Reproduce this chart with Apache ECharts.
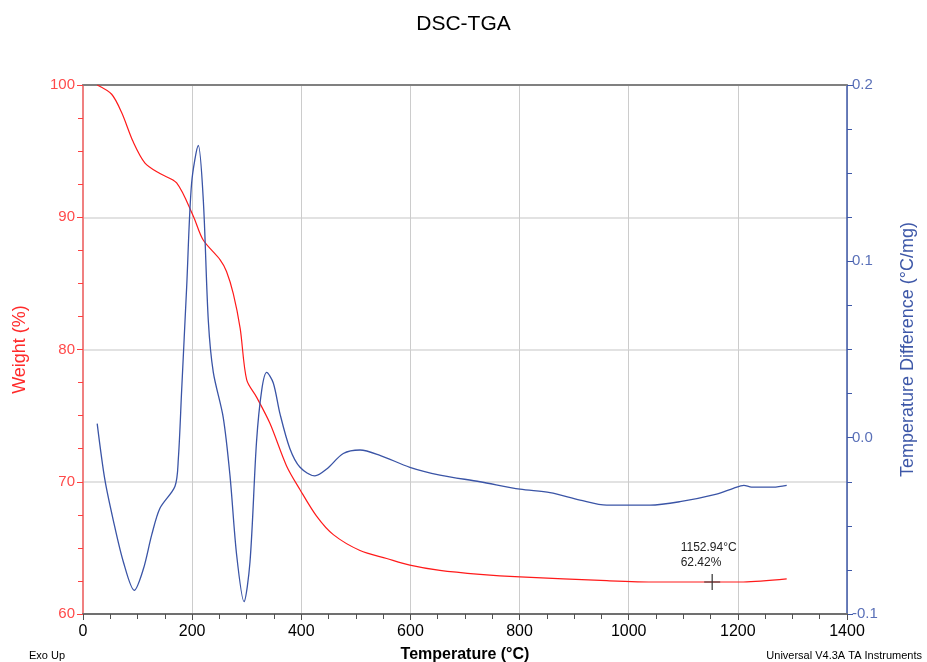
<!DOCTYPE html>
<html>
<head>
<meta charset="utf-8">
<script src="https://cdn.jsdelivr.net/npm/echarts@6/dist/echarts.min.js"></script>
<style>
html,body{margin:0;padding:0;background:#fff;}
#chart{width:927px;height:662px;}
</style>
</head>
<body>
<div id="chart"></div>
<script>
// TGA: temperature (°C) and weight (%)
const tgaTemp = [26, 52.5, 71, 92, 113.6, 141, 171.6, 202, 220, 251, 263, 275.5, 288, 300, 318, 342.7, 373, 397.7, 428, 458.7, 507.6, 556.5, 599, 654, 727.5, 800.8, 959.7, 1051, 1152.94, 1210, 1289.5];
const tgaWeight = [100, 99.3, 97.9, 95.7, 94.1, 93.3, 92.6, 90.1, 88.3, 86.8, 85.9, 84.2, 81.6, 77.7, 76.4, 74.4, 71.2, 69.4, 67.4, 66.0, 64.8, 64.2, 63.7, 63.3, 63.0, 62.8, 62.52, 62.42, 62.42, 62.42, 62.65];
// DSC: temperature (°C) and temperature difference (°C/mg)
const dscTemp = [26, 40, 55.6, 74, 94, 110.6, 126, 141, 168.6, 174.7, 180.8, 190, 199, 211.3, 220.5, 229.7, 238.8, 257, 269.4, 281.6, 295, 306, 318, 327.5, 336.6, 348.7, 361, 379, 397.7, 425, 446.6, 477, 507.6, 544, 599, 654, 727.5, 800.8, 855.8, 910.8, 959.7, 1039, 1094, 1161, 1191.7, 1211, 1225, 1265, 1289.5];
const dscDiff = [0.008, -0.0237, -0.047, -0.0705, -0.0866, -0.0745, -0.055, -0.040, -0.0275, -0.012, 0.027, 0.0857, 0.1443, 0.1657, 0.1345, 0.066, 0.037, 0.0114, -0.0217, -0.0667, -0.093, -0.0705, -0.0022, 0.027, 0.037, 0.031, 0.0135, -0.0061, -0.0168, -0.0217, -0.0178, -0.009, -0.007, -0.010, -0.0168, -0.0212, -0.025, -0.0292, -0.0312, -0.0354, -0.0383, -0.0383, -0.0363, -0.032, -0.0287, -0.027, -0.028, -0.028, -0.027];
// Annotation
const markTemp = 1152.94;
const markWeight = 62.42;

const FONT = '"Liberation Sans", Arial, sans-serif';
const chart = echarts.init(document.getElementById('chart'));
chart.setOption({
  animation: false,
  backgroundColor: '#fff',
  textStyle: { fontFamily: FONT },
  title: [
    { text: 'DSC-TGA', left: 'center', top: 9, textStyle: { fontSize: 21, fontWeight: 'normal', color: '#000', fontFamily: FONT } },
    { text: 'Exo Up', left: 24, top: 645, textStyle: { fontSize: 11, fontWeight: 'normal', color: '#000', fontFamily: FONT } },
    { text: 'Universal V4.3A TA Instruments', right: 0, top: 645, textStyle: { fontSize: 11, fontWeight: 'normal', color: '#000', fontFamily: FONT } }
  ],
  grid: { left: 83, right: 80, top: 85, bottom: 48, containLabel: false, outerBoundsMode: 'none' },
  xAxis: [{
    type: 'value', min: 0, max: 1400, interval: 200,
    name: 'Temperature (°C)', nameLocation: 'middle', nameGap: 33,
    nameTextStyle: { fontSize: 16, fontWeight: 'bold', color: '#000', fontFamily: FONT },
    axisLine: { onZero: false, lineStyle: { color: '#707070', width: 2 } },
    axisTick: { show: true, length: 6, lineStyle: { color: '#505050' } },
    minorTick: { show: true, splitNumber: 4, length: 5, lineStyle: { color: '#505050' } },
    axisLabel: { fontSize: 16, color: '#000', margin: 10, fontFamily: FONT, formatter: v => String(v) },
    splitLine: { show: true, lineStyle: { color: '#cccccc', width: 1 } }
  }, {
    type: 'value', min: 0, max: 1400, position: 'top',
    axisLine: { show: true, onZero: false, lineStyle: { color: '#808080', width: 2 } },
    axisTick: { show: false }, axisLabel: { show: false }, splitLine: { show: false }
  }],
  yAxis: [{
    type: 'value', min: 60, max: 100, interval: 10, position: 'left',
    name: 'Weight (%)', nameLocation: 'middle', nameGap: 54,
    nameTextStyle: { fontSize: 18, color: '#ff2a2a', fontFamily: FONT },
    axisLine: { show: true, onZero: false, lineStyle: { color: '#f08080', width: 2 } },
    axisTick: { show: true, length: 6, lineStyle: { color: '#ff4040' } },
    minorTick: { show: true, splitNumber: 4, length: 5, lineStyle: { color: '#ff4040' } },
    axisLabel: { fontSize: 15, color: '#ff4a4a', margin: 8, fontFamily: FONT },
    splitLine: { show: true, lineStyle: { color: '#d8d8d8', width: 1.5 } }
  }, {
    type: 'value', min: -0.1, max: 0.2, interval: 0.1, position: 'right',
    name: 'Temperature Difference (°C/mg)', nameLocation: 'middle', nameGap: 52, nameRotate: 90,
    nameTextStyle: { fontSize: 18, color: '#3e58a8', fontFamily: FONT },
    axisLine: { show: true, onZero: false, lineStyle: { color: '#3e58a8', width: 1.5 } },
    axisTick: { show: true, length: 6, lineStyle: { color: '#3e58a8' } },
    minorTick: { show: true, splitNumber: 4, length: 5, lineStyle: { color: '#3e58a8' } },
    axisLabel: { fontSize: 15, color: '#5a70b8', margin: 5, fontFamily: FONT, formatter: v => v.toFixed(1) },
    splitLine: { show: false }
  }],
  series: [{
    type: 'line', name: 'Weight', xAxisIndex: 0, yAxisIndex: 0,
    data: tgaTemp.map((t, i) => [t, tgaWeight[i]]),
    smooth: 0.3, showSymbol: false, lineStyle: { color: '#ff1a1a', width: 1.2 },
    markPoint: {
      symbol: 'path://M0,-8L0,8M-8,0L8,0', symbolSize: 16, silent: true,
      itemStyle: { color: 'none', borderColor: '#333', borderWidth: 1.2 },
      label: {
        show: true, position: [-21, -31], align: 'left', verticalAlign: 'top',
        fontSize: 12, color: '#222', lineHeight: 15, fontFamily: FONT,
        formatter: () => markTemp.toFixed(2) + '°C\n' + markWeight.toFixed(2) + '%'
      },
      data: [{ coord: [markTemp, markWeight] }]
    }
  }, {
    type: 'line', name: 'DSC', xAxisIndex: 0, yAxisIndex: 1,
    data: dscTemp.map((t, i) => [t, dscDiff[i]]),
    smooth: 0.3, showSymbol: false, lineStyle: { color: '#3a54a6', width: 1.3 }
  }]
});
</script>
</body>
</html>
